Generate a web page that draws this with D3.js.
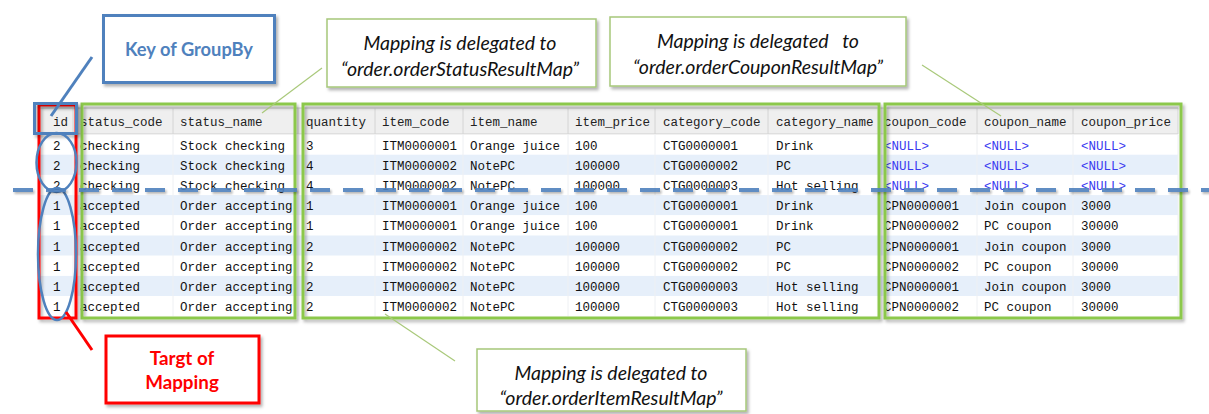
<!DOCTYPE html>
<html><head><meta charset="utf-8">
<script src="https://cdn.jsdelivr.net/npm/d3@7/dist/d3.min.js"></script>
<style>html,body{margin:0;padding:0;background:#fff;}svg{display:block;}</style>
</head><body>
<script>
// ---- data ----
const headers = ["id","status_code","status_name","quantity","item_code","item_name","item_price","category_code","category_name","coupon_code","coupon_name","coupon_price"];
const ids = ["2","2","2","1","1","1","1","1","1"];
const statusCodes = ["checking","checking","checking","accepted","accepted","accepted","accepted","accepted","accepted"];
const statusNames = ["Stock checking","Stock checking","Stock checking","Order accepting","Order accepting","Order accepting","Order accepting","Order accepting","Order accepting"];
const quantities = ["3","4","4","1","1","2","2","2","2"];
const itemCodes = ["ITM0000001","ITM0000002","ITM0000002","ITM0000001","ITM0000001","ITM0000002","ITM0000002","ITM0000002","ITM0000002"];
const itemNames = ["Orange juice","NotePC","NotePC","Orange juice","Orange juice","NotePC","NotePC","NotePC","NotePC"];
const itemPrices = ["100","100000","100000","100","100","100000","100000","100000","100000"];
const categoryCodes = ["CTG0000001","CTG0000002","CTG0000003","CTG0000001","CTG0000001","CTG0000002","CTG0000002","CTG0000003","CTG0000003"];
const categoryNames = ["Drink","PC","Hot selling","Drink","Drink","PC","PC","Hot selling","Hot selling"];
const couponCodes = ["<NULL>","<NULL>","<NULL>","CPN0000001","CPN0000002","CPN0000001","CPN0000002","CPN0000001","CPN0000002"];
const couponNames = ["<NULL>","<NULL>","<NULL>","Join coupon","PC coupon","Join coupon","PC coupon","Join coupon","PC coupon"];
const couponPrices = ["<NULL>","<NULL>","<NULL>","3000","30000","3000","30000","3000","30000"];
const columns = [ids,statusCodes,statusNames,quantities,itemCodes,itemNames,itemPrices,categoryCodes,categoryNames,couponCodes,couponNames,couponPrices];

const calloutStatus = ["Mapping is delegated to","\u201Corder.orderStatusResultMap\u201D"];
const calloutCoupon = ["Mapping is delegated\u00A0\u00A0 to","\u201Corder.orderCouponResultMap\u201D"];
const calloutItem = ["Mapping is delegated to","\u201Corder.orderItemResultMap\u201D"];
const keyLabel = ["Key of GroupBy"];
const targetLabel = ["Targt of","Mapping"];

// ---- layout ----
const W = 1209, H = 414;
const colEdges = [38,73,173,298,375,463,568,655,768,879,977,1073,1178];
const textX = [53,80,180,306,382,470,575,663,776,884,984,1081];

const svg = d3.select("body").append("svg").attr("width",W).attr("height",H);
const defs = svg.append("defs");
const f = defs.append("filter").attr("id","sh").attr("x","-10%").attr("y","-10%").attr("width","130%").attr("height","140%");
f.append("feDropShadow").attr("dx",2).attr("dy",2.5).attr("stdDeviation",1.6).attr("flood-color","#000").attr("flood-opacity",0.3);
const f2 = defs.append("filter").attr("id","shu").attr("filterUnits","userSpaceOnUse")
  .attr("x",0).attr("y",0).attr("width",W).attr("height",H);
f2.append("feDropShadow").attr("dx",1.5).attr("dy",2).attr("stdDeviation",1.2).attr("flood-color","#000").attr("flood-opacity",0.3);

const nRows = ids.length;
const y = d3.scaleBand().domain(d3.range(nRows)).range([134.5, 134.5 + nRows*20.2]).padding(0);
const x = d3.scaleOrdinal().domain(d3.range(headers.length)).range(textX);

const mono = "'Liberation Mono','DejaVu Sans Mono',monospace";
const tbl = svg.append("g");
// header
tbl.append("rect").attr("x",colEdges[0]).attr("y",108).attr("width",colEdges[colEdges.length-1]-colEdges[0]).attr("height",26.5).attr("fill","#efefef");
tbl.append("line").attr("x1",colEdges[0]).attr("x2",colEdges[colEdges.length-1]).attr("y1",108).attr("y2",108).attr("stroke","#c8c8c8");
tbl.append("line").attr("x1",colEdges[0]).attr("x2",colEdges[colEdges.length-1]).attr("y1",134).attr("y2",134).attr("stroke","#cfcfcf");
// rows
tbl.selectAll("rect.row").data(d3.range(nRows)).join("rect").attr("class","row")
  .attr("x",colEdges[0]).attr("width",colEdges[colEdges.length-1]-colEdges[0])
  .attr("y",d=>y(d)).attr("height",y.bandwidth())
  .attr("fill",d=> d%2===1 ? "#e6effa" : "#ffffff");
// separators
tbl.selectAll("line.sep").data(colEdges.slice(1)).join("line").attr("class","sep")
  .attr("x1",d=>d).attr("x2",d=>d).attr("y1",108).attr("y2",134).attr("stroke","#d4d4d4");
tbl.selectAll("line.sep2").data(colEdges.slice(1)).join("line").attr("class","sep2")
  .attr("x1",d=>d).attr("x2",d=>d).attr("y1",134.5).attr("y2",134.5+nRows*20.2).attr("stroke","#eef0f3");
// header text
tbl.selectAll("text.h").data(headers).join("text").attr("class","h")
  .attr("x",(d,i)=>x(i)).attr("y",126)
  .attr("font-family",mono).attr("font-size",12.5)
  .attr("fill","#222").text(d=>d);
// cells
columns.forEach((col,ci)=>{
  tbl.selectAll("text.c"+ci).data(col).join("text").attr("class","c"+ci)
    .attr("x",x(ci)).attr("y",(d,ri)=>y(ri)+15)
    .attr("font-family",mono).attr("font-size",12.5)
    .attr("fill",d=> d==="<NULL>" ? "#3a3af0" : "#111").text(d=>d);
});

// green group boxes
const green = "#8cc84b";
[[82,295],[303,879],[885,1181]].forEach(([a,b])=>{
  svg.append("rect").attr("x",a).attr("y",104).attr("width",b-a).attr("height",214)
    .attr("fill","none").attr("stroke",green).attr("stroke-width",3).attr("filter","url(#sh)");
});
// red box
svg.append("rect").attr("x",39).attr("y",105).attr("width",37).attr("height",213)
  .attr("fill","none").attr("stroke","#ff0000").attr("stroke-width",3).attr("filter","url(#sh)");
// blue header box
const blue = "#4f81bd";
svg.append("rect").attr("x",34.5).attr("y",103.5).attr("width",42).attr("height",30)
  .attr("fill","none").attr("stroke",blue).attr("stroke-width",3).attr("filter","url(#sh)");
// ellipses
svg.append("ellipse").attr("cx",56.5).attr("cy",162.5).attr("rx",20).attr("ry",29.5)
  .attr("fill","none").attr("stroke",blue).attr("stroke-width",2.5);
svg.append("ellipse").attr("cx",57).attr("cy",254).attr("rx",19).attr("ry",66)
  .attr("fill","none").attr("stroke",blue).attr("stroke-width",2.5);
// dashed line
svg.append("line").attr("x1",13).attr("x2",W).attr("y1",190).attr("y2",190)
  .attr("stroke",blue).attr("stroke-width",4).attr("stroke-dasharray","20,13").attr("opacity",0.9).attr("filter","url(#shu)");

// connectors
svg.append("line").attr("x1",92).attr("y1",57).attr("x2",51).attr("y2",116).attr("stroke",blue).attr("stroke-width",3);
svg.append("line").attr("x1",66).attr("y1",312).attr("x2",92).attr("y2",350).attr("stroke","#ff0000").attr("stroke-width",3);
const lg = "#a9c97a";
svg.append("line").attr("x1",322).attr("y1",68).attr("x2",262).attr("y2",113).attr("stroke",lg).attr("stroke-width",1.2);
svg.append("line").attr("x1",922).attr("y1",65).attr("x2",1001).attr("y2",116).attr("stroke",lg).attr("stroke-width",1.2);
svg.append("line").attr("x1",455).attr("y1",361).attr("x2",385).attr("y2",314).attr("stroke",lg).attr("stroke-width",1.2);

// callouts
function box(x0,y0,w,h,stroke,sw){
  svg.append("rect").attr("x",x0).attr("y",y0).attr("width",w).attr("height",h)
    .attr("fill","#fff").attr("stroke",stroke).attr("stroke-width",sw).attr("filter","url(#sh)");
}
function lines(arr,cx,ys,opts){
  svg.selectAll(null).data(arr).join("text").attr("x",cx).attr("y",(d,i)=>ys[i])
    .attr("text-anchor","middle").attr("dominant-baseline","central")
    .attr("font-family","Lato,'Open Sans',sans-serif").attr("font-size",opts.size)
    .attr("font-style",opts.style||"normal").attr("font-weight",opts.weight||"normal")
    .attr("fill",opts.fill).text(d=>d);
}
box(103.5,15.5,171,67,blue,3);
lines(keyLabel,189,[49],{size:18.3,weight:"bold",fill:blue});

box(327,19,269,68,"#a6c77a",1.5);
lines(calloutStatus,460,[42,68],{size:19.5,style:"italic",fill:"#111"});

box(610,17,296,69,"#a6c77a",1.5);
lines(calloutCoupon,758,[40,66],{size:19.5,style:"italic",fill:"#111"});

box(477,349,269,62,"#a6c77a",1.5);
lines(calloutItem,611,[372,397],{size:19.5,style:"italic",fill:"#111"});

box(106,336,153,67,"#ff0000",3);
lines(targetLabel,182,[357,381],{size:18.8,weight:"bold",fill:"#ff0000"});
</script>
</body></html>
